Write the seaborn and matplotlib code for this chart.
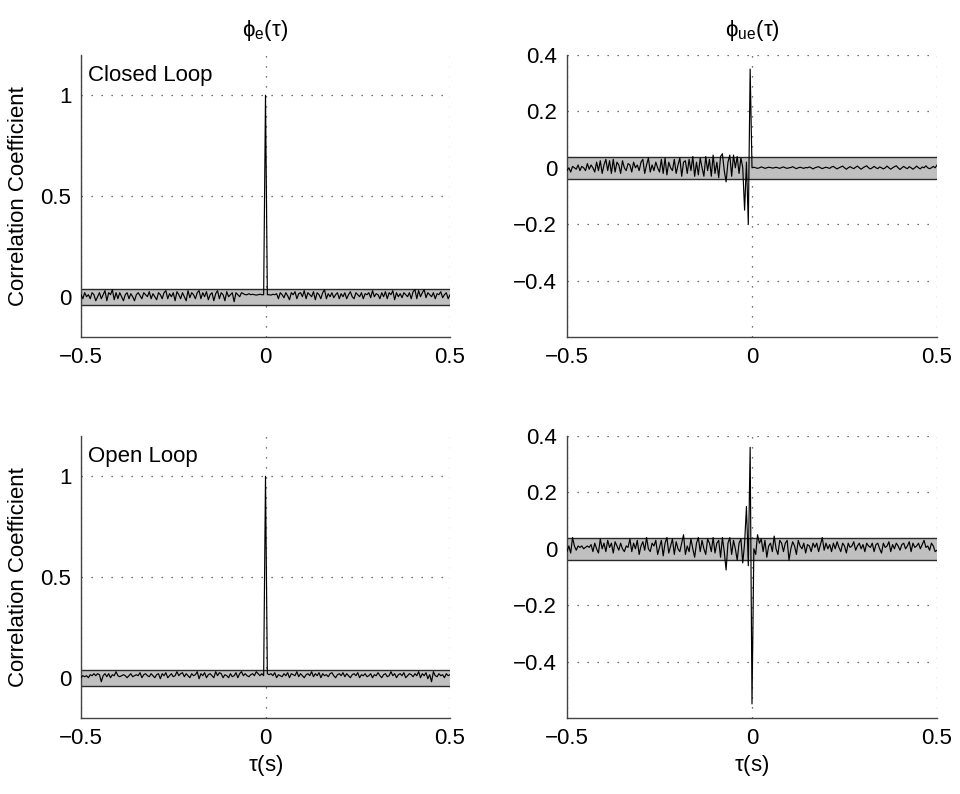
import numpy as np
import pandas as pd
import matplotlib
matplotlib.use("Agg")
import matplotlib.pyplot as plt
import seaborn as sns

# lag axis (s)
tau = np.round(np.arange(-0.5, 0.5001, 0.005), 3)

phi_e_closed = [
    0.01, -0.01, 0.02, 0.00, 0.01, -0.01, 0.02, 0.01, -0.02, 0.00,
    0.02, -0.01, 0.01, 0.03, -0.02, 0.02, 0.01, 0.035, -0.015, 0.02,
    -0.01, 0.02, 0.00, -0.02, 0.01, 0.02, -0.01, 0.015, 0.00, -0.02,
    0.01, 0.02, 0.005, -0.01, 0.02, 0.01, 0.00, 0.025, -0.01, 0.015,
    0.00, -0.015, 0.02, 0.01, -0.01, 0.02, 0.03, -0.01, 0.015, 0.00,
    0.02, -0.02, 0.025, 0.01, -0.01, 0.02, 0.00, -0.02, 0.03, -0.005,
    0.02, 0.01, -0.01, 0.02, 0.03, -0.01, 0.02, 0.00, 0.025, -0.015,
    0.01, 0.02, -0.02, 0.015, 0.03, -0.01, 0.02, 0.01, -0.02, 0.025,
    0.00, 0.01, 0.02, -0.025, 0.02, 0.01, 0.00, 0.02, 0.015, 0.01,
    0.01, 0.015, 0.01, 0.012, 0.01, 0.008, 0.01, 0.012, 0.01, 0.01,
    1.0,
    0.01, 0.01, 0.008, 0.012, 0.01, 0.015, -0.01, 0.02, 0.01, -0.005,
    0.02, 0.005, -0.015, 0.02, 0.01, 0.025, -0.01, 0.015, 0.02, 0.00,
    0.03, -0.01, 0.02, 0.01, 0.00, 0.025, -0.015, 0.02, 0.01, -0.01,
    0.02, 0.035, -0.01, 0.015, 0.00, 0.02, -0.005, 0.01, 0.02, -0.01,
    0.015, 0.00, 0.02, -0.01, 0.01, 0.025, 0.00, -0.01, 0.02, 0.01,
    0.00, 0.02, -0.01, 0.015, 0.01, 0.02, -0.005, 0.03, 0.00, 0.015,
    0.01, -0.01, 0.02, 0.00, 0.025, -0.01, 0.02, 0.01, 0.03, -0.015,
    0.02, 0.00, 0.015, -0.005, 0.02, 0.01, 0.00, 0.02, -0.01, 0.025,
    0.035, -0.01, 0.03, 0.00, 0.02, 0.035, -0.005, 0.02, 0.01, 0.00,
    0.02, -0.01, 0.015, 0.01, 0.025, -0.005, 0.01, 0.02, -0.01, 0.01,
]

phi_e_open = [
    0.00, 0.01, 0.005, 0.01, 0.00, 0.015, 0.01, 0.02, 0.01, 0.02,
    0.015, -0.02, 0.01, 0.02, 0.005, 0.02, 0.00, 0.015, 0.01, 0.03,
    0.01, 0.005, 0.01, 0.015, 0.01, 0.00, 0.01, 0.02, 0.005, 0.01,
    0.015, 0.01, 0.025, 0.00, 0.015, 0.02, 0.01, 0.005, 0.02, 0.01,
    0.00, 0.015, 0.02, -0.005, 0.02, 0.01, 0.025, 0.00, 0.01, 0.02,
    0.005, 0.01, 0.03, 0.01, 0.02, 0.025, 0.005, 0.02, 0.01, 0.00,
    0.02, 0.01, 0.015, 0.03, -0.005, 0.02, 0.01, 0.025, 0.00, 0.015,
    0.02, 0.01, 0.00, 0.03, 0.01, 0.025, 0.02, 0.00, 0.015, 0.01,
    0.00, 0.02, 0.005, 0.01, 0.025, 0.00, 0.02, 0.03, 0.01, 0.02,
    0.01, 0.005, 0.015, 0.02, 0.01, 0.03, 0.02, 0.01, 0.02, 0.01,
    1.0,
    0.02, 0.015, 0.02, 0.01, 0.025, 0.00, 0.015, 0.01, 0.005, 0.02,
    0.01, 0.025, 0.00, 0.02, 0.015, 0.01, 0.03, 0.005, 0.02, 0.01,
    0.00, 0.015, 0.02, 0.01, 0.03, 0.005, 0.02, 0.01, 0.025, 0.00,
    0.02, 0.01, 0.015, 0.005, 0.02, 0.025, 0.01, 0.00, 0.015, 0.02,
    0.01, 0.025, 0.005, 0.02, 0.01, 0.00, 0.015, 0.02, 0.01, 0.025,
    0.00, 0.015, 0.01, 0.02, 0.005, 0.01, 0.02, 0.00, 0.015, 0.01,
    0.025, 0.01, 0.00, 0.015, 0.02, 0.005, 0.01, 0.03, 0.01, 0.02,
    0.00, 0.015, 0.02, 0.01, 0.025, 0.00, 0.01, 0.02, 0.015, 0.005,
    0.02, 0.01, 0.03, 0.00, 0.02, 0.01, 0.025, -0.005, 0.015, -0.02,
    0.03, 0.01, 0.005, 0.02, 0.01, 0.015, 0.00, 0.02, 0.01, 0.015,
]

phi_ue_closed = [
    -0.01, 0.00, -0.015, 0.005, 0.00, -0.005, 0.01, -0.01, 0.005, 0.00,
    -0.01, 0.015, -0.005, 0.01, 0.00, -0.015, 0.02, -0.01, 0.025, -0.02,
    0.01, 0.03, -0.01, 0.025, -0.02, 0.03, -0.015, 0.02, 0.01, -0.02,
    0.025, 0.00, -0.01, 0.015, 0.01, -0.015, 0.02, 0.00, 0.01, -0.01,
    0.02, 0.03, -0.02, 0.01, 0.035, -0.015, 0.01, -0.01, 0.02, 0.00,
    -0.015, 0.03, -0.02, 0.035, -0.025, 0.02, 0.00, -0.01, 0.03, -0.02,
    0.01, 0.035, -0.03, 0.02, 0.025, -0.02, 0.03, -0.01, 0.04, -0.03,
    0.02, -0.025, 0.035, 0.00, -0.03, 0.04, -0.01, 0.03, -0.03, 0.045,
    -0.02, 0.02, -0.035, 0.04, 0.05, -0.01, -0.05, 0.02, 0.045, -0.03,
    0.045, 0.00, 0.04, -0.02, 0.035, 0.00, -0.15, 0.02, -0.20, 0.35,
    0.00,
    0.002, 0.000, -0.002, 0.000, 0.003, 0.001, -0.002, 0.000, 0.002, 0.001,
    -0.001, 0.000, 0.002, 0.000, -0.002, 0.001, 0.003, 0.000, -0.002, 0.000,
    0.001, 0.004, 0.000, -0.003, 0.000, 0.002, 0.000, -0.002, 0.001, 0.000,
    0.003, 0.000, -0.004, 0.000, 0.002, 0.004, 0.000, -0.003, 0.000, 0.002,
    0.000, -0.002, 0.003, 0.005, 0.000, -0.004, 0.000, 0.003, 0.006, 0.000,
    -0.005, 0.000, 0.004, 0.000, -0.003, 0.002, 0.006, 0.000, -0.005, 0.000,
    0.004, 0.007, 0.000, -0.004, 0.000, 0.005, 0.000, -0.003, 0.003, 0.000,
    -0.004, 0.000, 0.006, 0.000, -0.005, 0.000, 0.004, 0.007, 0.000, -0.006,
    0.000, 0.005, 0.000, -0.003, 0.004, 0.000, -0.005, 0.000, 0.006, 0.000,
    -0.004, 0.003, 0.000, 0.007, 0.000, -0.003, 0.000, 0.005, 0.000, 0.010,
]

phi_ue_open = [
    -0.01, 0.01, -0.015, 0.04, 0.01, -0.005, 0.01, 0.005, 0.01, 0.00,
    0.005, 0.01, 0.005, 0.015, -0.01, 0.02, 0.00, -0.015, 0.035, 0.00,
    0.02, -0.01, 0.03, 0.005, 0.02, -0.015, 0.025, 0.01, -0.005, 0.02,
    0.00, -0.01, 0.01, 0.005, 0.035, -0.01, 0.02, 0.00, 0.03, -0.02,
    0.01, 0.025, -0.005, 0.04, 0.00, -0.01, 0.02, 0.01, 0.03, -0.02,
    0.005, 0.03, -0.025, 0.02, 0.04, -0.015, 0.01, 0.035, -0.02, 0.025,
    0.00, -0.01, 0.02, 0.05, -0.02, 0.01, -0.01, 0.035, 0.00, -0.03,
    0.02, 0.04, -0.01, 0.03, 0.00, -0.02, 0.035, 0.02, -0.01, 0.04,
    -0.015, 0.02, 0.03, -0.03, 0.04, -0.01, -0.075, 0.02, 0.04, -0.02,
    0.03, 0.00, -0.04, 0.02, 0.035, -0.05, 0.02, 0.15, -0.06, 0.36,
    -0.55,
    0.00, -0.02, 0.05, 0.02, 0.035, -0.01, 0.03, -0.03, 0.01, 0.02,
    -0.01, 0.045, 0.00, -0.02, 0.03, 0.02, -0.01, 0.02, 0.03, -0.04,
    0.00, 0.025, 0.01, -0.02, 0.03, 0.01, 0.00, 0.02, -0.015, 0.015,
    0.01, -0.01, 0.02, 0.005, 0.02, -0.01, 0.015, 0.04, -0.005, 0.02,
    0.00, 0.015, -0.01, 0.02, 0.00, 0.025, 0.005, -0.01, 0.02, 0.01,
    -0.015, 0.02, 0.005, 0.01, 0.025, -0.005, 0.01, 0.02, 0.00, 0.015,
    -0.01, 0.02, 0.01, 0.005, 0.02, -0.01, 0.015, 0.02, 0.00, -0.015,
    0.02, 0.005, 0.01, 0.025, -0.01, 0.015, 0.00, 0.02, 0.01, -0.005,
    0.015, 0.02, 0.00, 0.01, 0.025, -0.01, 0.02, 0.005, 0.01, 0.02,
    0.00, 0.015, 0.03, 0.005, 0.01, -0.005, 0.02, 0.01, -0.01, -0.005,
]

conf_bound = 0.04
col_titles = [r"$\mathrm{\phi_{e}(\tau)}$", r"$\mathrm{\phi_{ue}(\tau)}$"]
row_labels = ["Closed Loop", "Open Loop"]
x_label = r"$\mathrm{\tau}$(s)"
y_label = "Correlation Coefficient"
xticks = [-0.5, 0, 0.5]
xticklabels = ["\u22120.5", "0", "0.5"]
yticks_e = [0, 0.5, 1]
yticklabels_e = ["0", "0.5", "1"]
yticks_ue = [-0.4, -0.2, 0, 0.2, 0.4]
yticklabels_ue = ["\u22120.4", "\u22120.2", "0", "0.2", "0.4"]

sns.set_theme(style="white")
plt.rcParams["font.family"] = ["Liberation Sans", "DejaVu Sans"]
plt.rcParams["mathtext.fontset"] = "custom"
plt.rcParams["mathtext.rm"] = "Liberation Sans"
plt.rcParams["mathtext.it"] = "Liberation Sans:italic"
plt.rcParams["text.color"] = "black"
plt.rcParams["axes.labelcolor"] = "black"
plt.rcParams["xtick.color"] = "black"
plt.rcParams["ytick.color"] = "black"

FS = 16
W, H = 960, 794
fig = plt.figure(figsize=(W / 100, H / 100), dpi=100)

def px_axes(x0, y0, x1, y1):
    return fig.add_axes([x0 / W, 1 - y1 / H, (x1 - x0) / W, (y1 - y0) / H])

col_x = [(81, 450), (567, 937)]
row_y = [(55, 337), (436, 718)]

series = [[phi_e_closed, phi_ue_closed], [phi_e_open, phi_ue_open]]

for r in range(2):
    for c in range(2):
        ax = px_axes(col_x[c][0], row_y[r][0], col_x[c][1], row_y[r][1])
        df = pd.DataFrame({"tau": tau, "rho": series[r][c]})
        ax.axhspan(-conf_bound, conf_bound, facecolor="#c0c0c0", edgecolor="none", zorder=1)
        ax.axhline(conf_bound, color="#2a2a2a", lw=1.0, zorder=2)
        ax.axhline(-conf_bound, color="#2a2a2a", lw=1.0, zorder=2)
        sns.lineplot(data=df, x="tau", y="rho", ax=ax, color="black", lw=0.85,
                     estimator=None, zorder=3)
        ax.set_xlim(-0.5, 0.5)
        ax.set_xticks(xticks)
        ax.set_xticklabels(xticklabels)
        if c == 0:
            ax.set_ylim(-0.2, 1.2)
            ax.set_yticks(yticks_e)
            ax.set_yticklabels(yticklabels_e)
            ax.set_ylabel(y_label, fontsize=FS, labelpad=8)
            ax.text(-0.48, 1.1, row_labels[r], fontsize=FS, ha="left", va="center")
        else:
            ax.set_ylim(-0.6, 0.4)
            ax.set_yticks(yticks_ue)
            ax.set_yticklabels(yticklabels_ue)
            ax.set_ylabel("")
        if r == 0:
            ax.set_title(col_titles[c], fontsize=FS, pad=14)
            ax.set_xlabel("")
        else:
            ax.set_xlabel(x_label, fontsize=FS, labelpad=3)
        ax.grid(True, linestyle=(0, (1, 7)), color="#444444", lw=0.9)
        ax.set_axisbelow(True)
        for s in ["top", "right"]:
            ax.spines[s].set_visible(False)
        for s in ["left", "bottom"]:
            ax.spines[s].set_color("#444444")
            ax.spines[s].set_linewidth(1.0)
        ax.tick_params(axis="both", labelsize=FS, length=3, direction="in",
                       color="#444444", pad=7)

fig.savefig("out.png", dpi=100, facecolor="white")
